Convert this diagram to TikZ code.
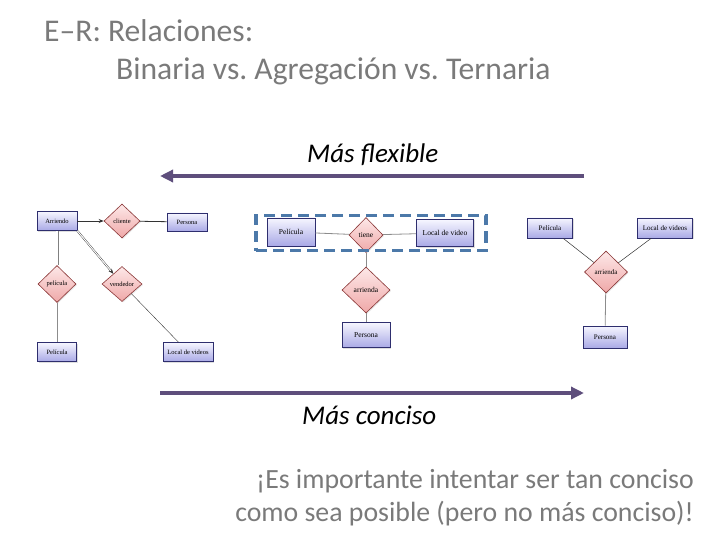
\documentclass[tikz,border=0pt]{standalone}
\usepackage{fontspec}
\setmainfont{Carlito}
\newfontfamily\erfont{Liberation Serif}
\usetikzlibrary{arrows.meta,shapes.geometric,shadows}
\frenchspacing
\definecolor{titlegray}{HTML}{7A7A7A}
\definecolor{arrowpurple}{HTML}{5E4E7C}
\definecolor{entborder}{HTML}{2E2E6E}
\definecolor{enttop}{HTML}{F6F6FF}
\definecolor{entbot}{HTML}{A9A9E6}
\definecolor{reltop}{HTML}{FDE8E8}
\definecolor{relbot}{HTML}{EFA8A8}
\definecolor{relborder}{HTML}{8A3636}
\definecolor{aggblue}{HTML}{4C79A9}
\tikzset{
  entity/.style={draw=entborder, line width=0.7pt, top color=enttop, bottom color=entbot,
    inner sep=0pt, font=\erfont\fontsize{6.5}{7}\selectfont,
    drop shadow={opacity=0.25, shadow xshift=1pt, shadow yshift=-1pt}},
  relation/.style={diamond, aspect=1.1, draw=relborder, line width=0.6pt, top color=reltop, bottom color=relbot,
    inner sep=0pt, font=\erfont\fontsize{6.5}{7}\selectfont,
    drop shadow={opacity=0.2, shadow xshift=1pt, shadow yshift=-1pt}},
  midfont/.style={font=\erfont\fontsize{7.5}{8}\selectfont},
  rightfont/.style={font=\erfont\fontsize{7}{8}\selectfont},
  bigarrow/.style={draw=arrowpurple, line width=4pt, -{Triangle[length=13pt,width=12pt]}},
  thinline/.style={draw=black!80, line width=0.5pt},
  grayline/.style={draw=black!45, line width=0.8pt},
}
\begin{document}
\begin{tikzpicture}[x=1pt,y=-1pt]
\useasboundingbox (0,0) rectangle (720,540);
% title
\node[anchor=base west, inner sep=0pt, text=titlegray, font=\fontsize{31.6}{36}\selectfont] (t1) at (44,42) {E--R: Relaciones:};
\node[anchor=base west, inner sep=0pt, text=titlegray, font=\fontsize{31.6}{36}\selectfont] (t2) at (116,80) {Binaria vs. Agregación vs. Ternaria};
% top arrow
\node[anchor=base west, inner sep=0pt, font=\fontsize{27}{30}\selectfont\itshape] (flex) at (307,163) {Más flexible};
\coordinate (fa) at (584,176);
\coordinate (fb) at (160,176);
\draw[bigarrow] (fa) -- (fb);
% bottom arrow
\coordinate (ca) at (160,393);
\coordinate (cb) at (584,393);
\draw[bigarrow] (ca) -- (cb);
\node[anchor=base west, inner sep=0pt, font=\fontsize{27}{30}\selectfont\itshape] (conc) at (302,424) {Más conciso};
% bottom text
\node[anchor=base east, inner sep=0pt, text=titlegray, font=\fontsize{27.8}{32}\selectfont] (b1) at (694,488) {¡Es importante intentar ser tan conciso};
\node[anchor=base east, inner sep=0pt, text=titlegray, font=\fontsize{27.8}{32}\selectfont] (b2) at (694,521) {como sea posible (pero no más conciso)!};

% ---------- left diagram (binaria)
\node[entity, minimum width=40pt, minimum height=19pt] (arr1) at (57,221) {Arriendo};
\node[relation, minimum width=36pt, minimum height=34pt] (cli1) at (122,221) {cliente};
\node[entity, minimum width=40pt, minimum height=18pt] (per1) at (187,222) {Persona};
\node[relation, minimum width=38pt, minimum height=37pt] (pel1r) at (57,284) {película};
\node[relation, minimum width=40pt, minimum height=35pt] (ven1) at (122,284) {vendedor};
\node[entity, minimum width=39pt, minimum height=19pt] (pel1) at (57,352) {Película};
\node[entity, minimum width=50pt, minimum height=19pt] (loc1) at (188,352) {Local de videos};
\draw[thinline, line width=0.8pt, -{Stealth[length=5pt,width=4pt]}] (arr1) -- (cli1);
\draw[thinline, line width=0.8pt] (cli1) -- (per1);
\draw[draw=black!50, double=white, double distance=1.2pt, line width=0.9pt] (arr1) -- (pel1r);
\draw[grayline] (pel1r) -- (pel1);
\draw[draw=black!80, double=white, double distance=1pt, line width=0.4pt, -{Stealth[length=5pt,width=4pt]}] (arr1.south east) -- (ven1);
\draw[thinline, line width=0.4pt] (ven1) -- (loc1);

% ---------- middle diagram (agregacion)
\node[entity, midfont, minimum width=48pt, minimum height=28pt] (pel2) at (291,232) {Película};
\node[relation, midfont, minimum width=34pt, minimum height=35pt] (tie2) at (366,235) {tiene};
\node[entity, midfont, minimum width=57pt, minimum height=27pt] (loc2) at (445,233) {Local de video};
\node[relation, midfont, minimum width=48pt, minimum height=46pt] (arr2) at (366,290) {arrienda};
\node[entity, midfont, minimum width=48pt, minimum height=25pt] (per2) at (366,335) {Persona};
\draw[grayline] (pel2) -- (tie2);
\draw[grayline] (tie2) -- (loc2);
\draw[grayline] (tie2) -- (arr2);
\draw[grayline] (arr2) -- (per2);
\node[draw=aggblue, line width=3.5pt, dash pattern=on 11pt off 6pt, minimum width=230pt, minimum height=35pt, inner sep=0pt] (agg) at (371,233) {};

% ---------- right diagram (ternaria)
\node[entity, rightfont, minimum width=45pt, minimum height=20pt] (pel3) at (550,228) {Película};
\node[entity, rightfont, minimum width=55pt, minimum height=20pt] (loc3) at (665,228) {Local de videos};
\node[relation, rightfont, minimum width=43pt, minimum height=42pt] (arr3) at (606,272) {arrienda};
\node[entity, rightfont, minimum width=44pt, minimum height=22pt] (per3) at (605,337) {Persona};
\draw[thinline] (pel3) -- (arr3);
\draw[thinline] (loc3) -- (arr3);
\draw[grayline] (arr3) -- (per3);
\end{tikzpicture}
\end{document}
